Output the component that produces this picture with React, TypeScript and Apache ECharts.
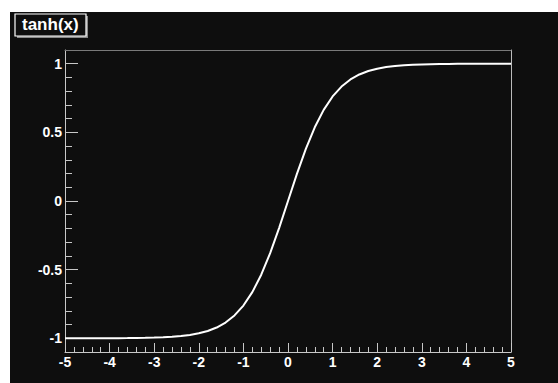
import React, { useEffect, useRef } from "react";
import * as echarts from "echarts";

const titleText = "tanh(x)";
const xValues = [
  -5, -4.8, -4.6, -4.4, -4.2, -4, -3.8, -3.6, -3.4, -3.2, -3, -2.8, -2.6, -2.4, -2.2, -2, -1.8, -1.6, -1.4, -1.2, -1,
  -0.8, -0.6, -0.4, -0.2, 0, 0.2, 0.4, 0.6, 0.8, 1, 1.2, 1.4, 1.6, 1.8, 2, 2.2, 2.4, 2.6, 2.8, 3, 3.2, 3.4, 3.6, 3.8,
  4, 4.2, 4.4, 4.6, 4.8, 5,
];
const yValues = [
  -0.9999, -0.9999, -0.9998, -0.9997, -0.9996, -0.9993, -0.999, -0.9985, -0.9978, -0.9967, -0.9951, -0.9926, -0.989,
  -0.9837, -0.9757, -0.964, -0.9468, -0.9217, -0.8854, -0.8337, -0.7616, -0.664, -0.537, -0.3799, -0.1974, 0, 0.1974,
  0.3799, 0.537, 0.664, 0.7616, 0.8337, 0.8854, 0.9217, 0.9468, 0.964, 0.9757, 0.9837, 0.989, 0.9926, 0.9951, 0.9967,
  0.9978, 0.9985, 0.999, 0.9993, 0.9996, 0.9997, 0.9998, 0.9999, 0.9999,
];
const xMin = -5;
const xMax = 5;
const yFrameMin = -1.1;
const yFrameMax = 1.1;
const yTickMin = -1;
const yTickMax = 1;

export default function App() {
  const ref = useRef<HTMLDivElement>(null);
  useEffect(() => {
    if (!ref.current) return;
    const chart = echarts.init(ref.current, null, { renderer: "svg" });
    const font = "'Liberation Sans', Arial, Helvetica, sans-serif";
    const axisCol = "#c8c8c8";
    const labelStyle = { color: "#ffffff", fontWeight: "bold" as const, fontSize: 14, fontFamily: font };
    chart.setOption({
      animation: false,
      backgroundColor: "#0e0e0e",
      grid: [
        { left: 55, right: 47, top: 38, bottom: 31 },
        { left: 55, right: 47, top: 51.7, bottom: 44.7 },
      ],
      xAxis: [
        {
          type: "value",
          gridIndex: 0,
          min: xMin,
          max: xMax,
          interval: 1,
          position: "bottom",
          axisLine: { show: true, onZero: false, lineStyle: { color: axisCol, width: 1 } },
          axisTick: { show: true, inside: true, length: 9, lineStyle: { color: axisCol } },
          minorTick: { show: true, splitNumber: 5, length: 5, lineStyle: { color: axisCol } },
          axisLabel: { ...labelStyle, margin: 3 },
          splitLine: { show: false },
          minorSplitLine: { show: false },
        },
        {
          type: "value",
          gridIndex: 0,
          min: xMin,
          max: xMax,
          position: "top",
          axisLine: { show: true, onZero: false, lineStyle: { color: "#7a7a7a", width: 1 } },
          axisTick: { show: false },
          axisLabel: { show: false },
          splitLine: { show: false },
        },
        {
          type: "value",
          gridIndex: 1,
          min: xMin,
          max: xMax,
          show: false,
        },
      ],
      yAxis: [
        {
          type: "value",
          gridIndex: 0,
          min: yFrameMin,
          max: yFrameMax,
          position: "left",
          axisLine: { show: true, onZero: false, lineStyle: { color: axisCol, width: 1 } },
          axisTick: { show: false },
          axisLabel: { show: false },
          splitLine: { show: false },
        },
        {
          type: "value",
          gridIndex: 0,
          min: yFrameMin,
          max: yFrameMax,
          position: "right",
          axisLine: { show: true, onZero: false, lineStyle: { color: "#bbbbbb", width: 1 } },
          axisTick: { show: false },
          axisLabel: { show: false },
          splitLine: { show: false },
        },
        {
          type: "value",
          gridIndex: 1,
          min: yTickMin,
          max: yTickMax,
          interval: 0.5,
          position: "left",
          axisLine: { show: false, onZero: false },
          axisTick: { show: true, inside: true, length: 13, lineStyle: { color: axisCol } },
          minorTick: { show: true, splitNumber: 5, length: 7, lineStyle: { color: axisCol } },
          axisLabel: { ...labelStyle, margin: 3 },
          splitLine: { show: false },
          minorSplitLine: { show: false },
        },
      ],
      graphic: [
        { type: "rect", shape: { x: 7, y: 4, width: 71, height: 22 }, style: { fill: "#8a8a8a" } },
        {
          type: "rect",
          shape: { x: 5, y: 2, width: 71, height: 22 },
          style: { fill: "#0e0e0e", stroke: "#ffffff", lineWidth: 1.2 },
        },
        {
          type: "text",
          x: 12,
          y: 4,
          style: { text: titleText, fill: "#ffffff", font: `bold 17px ${font}` },
        },
      ],
      series: [
        {
          type: "line",
          xAxisIndex: 0,
          yAxisIndex: 0,
          data: xValues.map((x, i) => [x, yValues[i]]),
          showSymbol: false,
          symbol: "none",
          lineStyle: { color: "#ffffff", width: 2 },
          clip: true,
        },
      ],
    });
    return () => chart.dispose();
  }, []);
  return (
    <div
      ref={ref}
      style={{ position: "absolute", left: 10, top: 12, width: 548, height: 371 }}
    />
  );
}
